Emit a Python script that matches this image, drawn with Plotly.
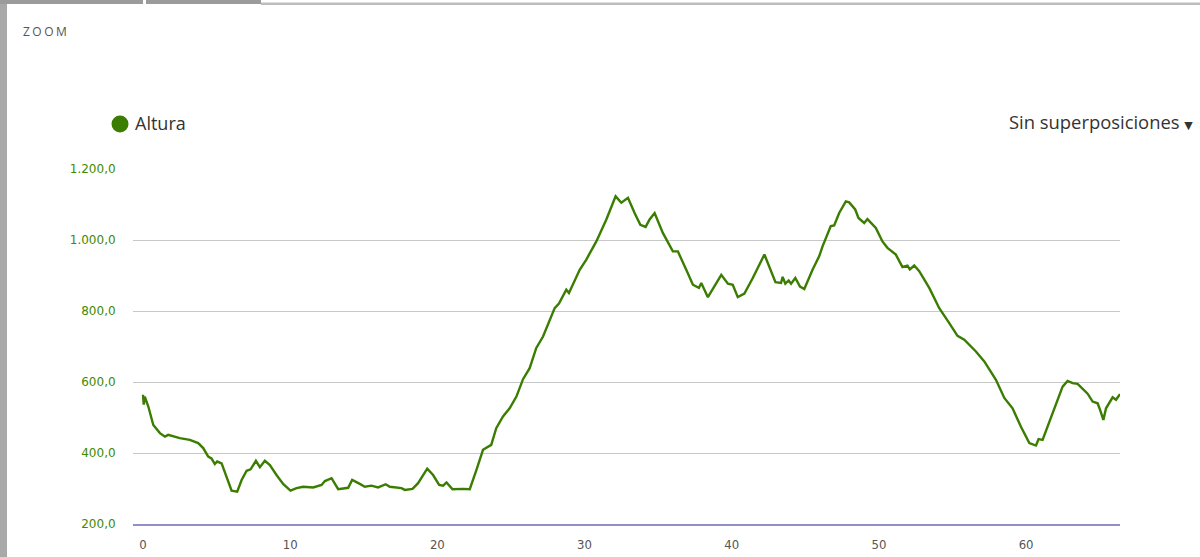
import plotly.graph_objects as go

km = [0, 0.05, 0.12, 0.36, 0.70, 1.15, 1.49, 1.71, 2.5, 3.18, 3.75, 4.09, 4.43, 4.65, 4.88, 5.04, 5.34,
      5.68, 6.02, 6.40, 6.70, 7.04, 7.31, 7.67, 7.94, 8.28, 8.62, 9.07, 9.52, 10.02, 10.43, 10.88,
      11.56, 12.13, 12.36, 12.81, 13.26, 13.94, 14.21, 14.73, 15.07, 15.52, 15.97, 16.49, 16.77,
      17.56, 17.79, 18.31, 18.69, 19.31, 19.71, 20.12, 20.39, 20.62, 21.03, 21.75, 22.2, 22.65,
      23.1, 23.66, 24.0, 24.46, 24.91, 25.37, 25.82, 26.27, 26.72, 27.18, 27.97, 28.26, 28.76,
      28.94, 29.67, 30.12, 30.8, 31.48, 32.11, 32.5, 32.95, 33.4, 33.79, 34.15, 34.42, 34.76,
      35.32, 36.0, 36.34, 36.91, 37.36, 37.77, 37.93, 38.38, 38.83, 39.29, 39.74, 40.07, 40.41,
      40.86, 41.43, 42.22, 42.97, 43.35, 43.46, 43.64, 43.87, 44.03, 44.32, 44.64, 44.93, 45.49,
      45.94, 46.17, 46.73, 46.96, 47.3, 47.75, 47.98, 48.39, 48.61, 49.0, 49.22, 49.79, 50.24,
      50.58, 51.15, 51.6, 51.94, 52.1, 52.4, 52.74, 53.42, 54.1, 54.78, 55.34, 55.8, 56.59,
      57.16, 57.95, 58.52, 59.08, 59.65, 60.22, 60.67, 60.85, 61.12, 61.8, 62.48, 62.82, 63.16,
      63.5, 64.18, 64.52, 64.86, 65.02, 65.25, 65.43, 65.88, 66.11, 66.38]
altura = [564, 536, 559, 531, 479, 456, 446, 451, 442, 437, 428, 414, 390, 385, 369, 376, 371,
          333, 294, 291, 324, 350, 354, 378, 360, 378, 366, 338, 313, 294, 301, 305,
          303, 310, 321, 329, 298, 302, 324, 313, 305, 308, 303, 312, 305,
          301, 296, 299, 315, 356, 338, 310, 308, 317, 298, 299, 298, 352,
          409, 423, 470, 503, 526, 559, 608, 639, 696, 728, 808, 821, 860,
          851, 916, 945, 996, 1058, 1123, 1105, 1119, 1076, 1043, 1037, 1058, 1076,
          1020, 968, 968, 916, 874, 865, 879, 839, 869, 902, 877, 874, 839,
          849, 893, 959, 881, 879, 896, 877, 886, 877, 893, 869, 862, 916,
          954, 982, 1039, 1041, 1076, 1109, 1106, 1086, 1062, 1048, 1059, 1034, 996,
          978, 959, 924, 928, 917, 928, 912, 865, 808, 766, 730, 719, 686,
          658, 606, 555, 526, 474, 428, 421, 439, 437, 512, 587, 603, 597,
          595, 567, 545, 540, 522, 493, 526, 557, 550, 566]

x_ticks = [0, 10, 20, 30, 40, 50, 60]
y_ticks = [200, 400, 600, 800, 1000, 1200]

W, H = 1200, 557
L, R, T, B = 133, 80, 169, 33
PW, PH = W - L - R, H - T - B

def px(x):
    return (x - L) / PW

def py(y):
    return (H - B - y) / PH

GREEN = "#3a7d00"

fig = go.Figure()
fig.add_trace(go.Scatter(x=km, y=altura, mode="lines", name="Altura",
                         line=dict(color=GREEN, width=2.4), showlegend=False,
                         hovertemplate="%{x:.2f} km<br>%{y:,.1f} m<extra></extra>"))

shapes = [
    # page frame pieces
    dict(type="rect", xref="paper", yref="paper", x0=px(0), x1=px(7), y0=py(557), y1=py(0),
         fillcolor="#a9a9a9", line=dict(width=0), layer="above"),
    dict(type="rect", xref="paper", yref="paper", x0=px(0), x1=px(143), y0=py(4), y1=py(0),
         fillcolor="#9b9b9b", line=dict(width=0), layer="above"),
    dict(type="rect", xref="paper", yref="paper", x0=px(146), x1=px(261), y0=py(4), y1=py(0),
         fillcolor="#9b9b9b", line=dict(width=0), layer="above"),
    dict(type="rect", xref="paper", yref="paper", x0=px(261), x1=px(1200), y0=py(5), y1=py(2.5),
         fillcolor="#bdbdbd", line=dict(width=0), layer="above"),
    # legend marker
    dict(type="circle", xref="paper", yref="paper", x0=px(111.5), x1=px(128.5), y0=py(132.5), y1=py(115.5),
         fillcolor=GREEN, line=dict(width=0)),
]

annotations = [
    dict(text='<span style="letter-spacing:2.5px">ZOOM</span>', xref="paper", yref="paper",
         x=px(21), y=py(31), xanchor="left", yanchor="middle",
         showarrow=False, font=dict(family="Open Sans, DejaVu Sans", size=12, color="#555555")),
    dict(text="Altura", xref="paper", yref="paper", x=px(133), y=py(123), xanchor="left", yanchor="middle",
         showarrow=False, font=dict(family="Open Sans, DejaVu Sans", size=18, color="#333333")),
    dict(text='Sin superposiciones <span style="font-family:DejaVu Sans;font-size:11px">▼</span>',
         xref="paper", yref="paper", x=px(1195), y=py(122), xanchor="right",
         yanchor="middle", showarrow=False, font=dict(family="Open Sans, DejaVu Sans", size=18.4, color="#333333")),
]

fig.update_layout(
    width=W, height=H,
    margin=dict(l=L, r=R, t=T, b=B, pad=0),
    paper_bgcolor="white", plot_bgcolor="white",
    separators=",.",
    shapes=shapes, annotations=annotations,
    xaxis=dict(range=[-0.68, 66.38], tickvals=x_ticks, ticktext=[str(v) for v in x_ticks],
               automargin=False,
               showgrid=False, zeroline=False, showline=True, linecolor="#9090c8", linewidth=2,
               ticks="outside", ticklen=7, tickcolor="rgba(0,0,0,0)",
               tickfont=dict(family="Liberation Sans Narrow, DejaVu Sans Condensed, Liberation Sans", size=13,
                             color="#555555")),
    yaxis=dict(range=[200, 1200], tickvals=y_ticks, tickformat=",.1f",
               automargin=False,
               showgrid=True, gridcolor="#c8c8c8", gridwidth=1, zeroline=False, showline=False,
               ticks="outside", ticklen=14, tickcolor="rgba(0,0,0,0)",
               tickfont=dict(family="DejaVu Sans, Verdana", size=12, color="#428a00")),
)

fig.write_html("out.html", config={"displayModeBar": False},
               post_script="document.body.style.margin='0';document.body.style.overflow='hidden';")
